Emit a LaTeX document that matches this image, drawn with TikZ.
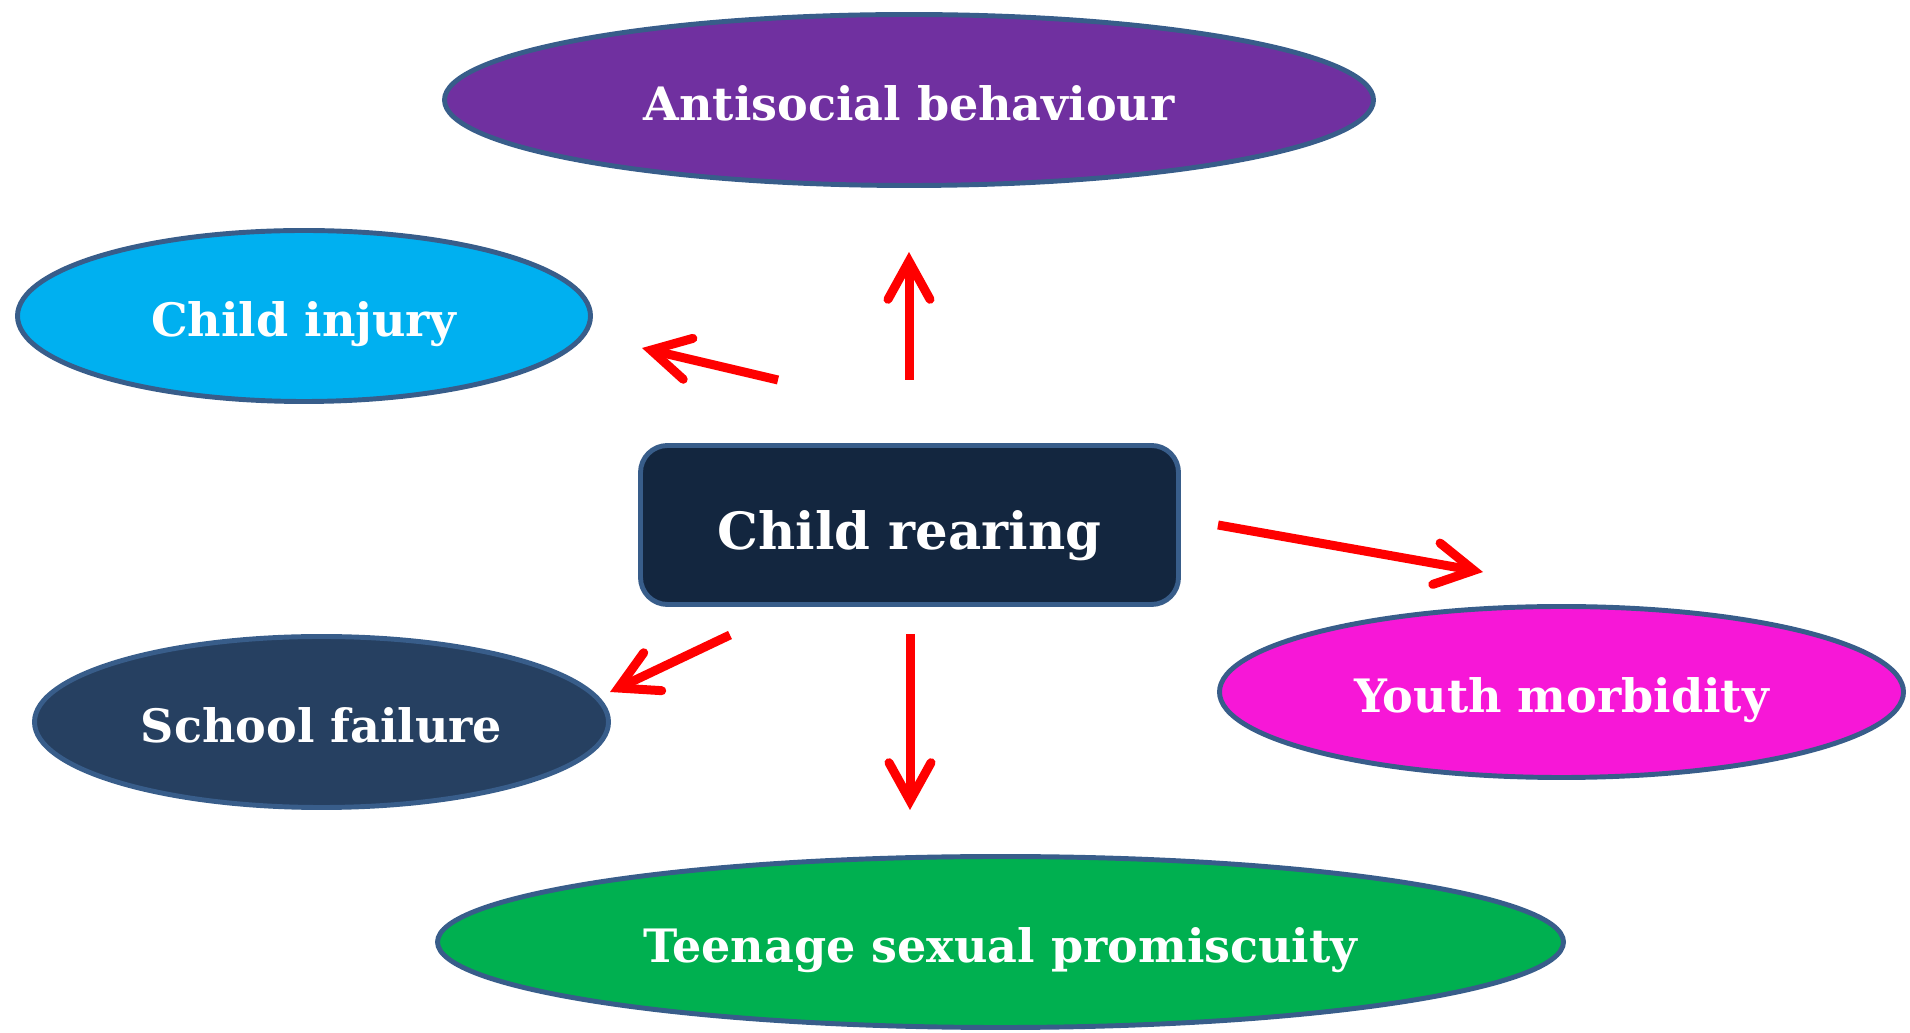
\documentclass[tikz,border=0pt]{standalone}
\usepackage{fontspec}
\setmainfont{DejaVu Serif}
\usetikzlibrary{arrows.meta,shapes.geometric}
\definecolor{edgeblue}{HTML}{385D8A}
\definecolor{antipurple}{HTML}{7030A0}
\definecolor{injuryblue}{HTML}{00B0F0}
\definecolor{schoolblue}{HTML}{264061}
\definecolor{youthpink}{HTML}{F717D7}
\definecolor{teengreen}{HTML}{00B050}
\definecolor{rearnavy}{HTML}{13263F}
\tikzset{
  oval/.style={ellipse, draw=edgeblue, line width=1.4pt, inner sep=0pt,
    minimum height=1.71cm, text=white, text height=11.6pt, text depth=0pt,
    font=\bfseries\fontsize{13.1}{15}\selectfont},
  arr/.style={red, line width=0.9mm, -{Straight Barb[length=3.8mm,width=4.2mm,line cap=round,line join=miter]}}
}

\begin{document}
\begin{tikzpicture}
            \useasboundingbox (0,0) rectangle (19.10,10.33);
            % centre box
            \node (rear) at (9.095,5.08) [draw=edgeblue, line width=1.4pt, fill=rearnavy, rounded corners=0.27cm,
              minimum width=5.38cm, minimum height=1.59cm, text=white, text height=14pt, text depth=0pt,
              font=\bfseries\fontsize{14.6}{17}\selectfont]{Child rearing};
            
            % outcomes
            \node (anti) at (9.09,9.33) [oval, fill=antipurple, minimum width=9.29cm]{Antisocial behaviour};
            \node (injury) at (3.04,7.17) [oval, fill=injuryblue, minimum width=5.73cm]{Child injury};
            \node (school) at (3.215,3.11) [oval, fill=schoolblue, minimum width=5.74cm]{School failure};
            \node (youth) at (15.615,3.41) [oval, fill=youthpink, minimum width=6.84cm]{Youth morbidity};
            \node (teen) at (10.005,0.91) [oval, fill=teengreen, minimum width=11.26cm]{Teenage sexual promiscuity};
            
            % arrow ends
            \coordinate (anti-s) at (9.09,6.53);
            \coordinate (anti-e) at (9.09,7.81);
            \coordinate (injury-s) at (7.78,6.53);
            \coordinate (injury-e) at (6.42,6.85);
            \coordinate (youth-s) at (12.18,5.08);
            \coordinate (youth-e) at (14.83,4.61);
            \coordinate (school-s) at (7.30,3.98);
            \coordinate (school-e) at (6.10,3.41);
            \coordinate (teen-s) at (9.10,3.99);
            \coordinate (teen-e) at (9.10,2.23);
            
            % arrows
            \draw[arr] (anti-s) -- (anti-e);
            \draw[arr] (injury-s) -- (injury-e);
            \draw[arr] (youth-s) -- (youth-e);
            \draw[arr] (school-s) -- (school-e);
            \draw[arr] (teen-s) -- (teen-e);
\end{tikzpicture}
\end{document}
